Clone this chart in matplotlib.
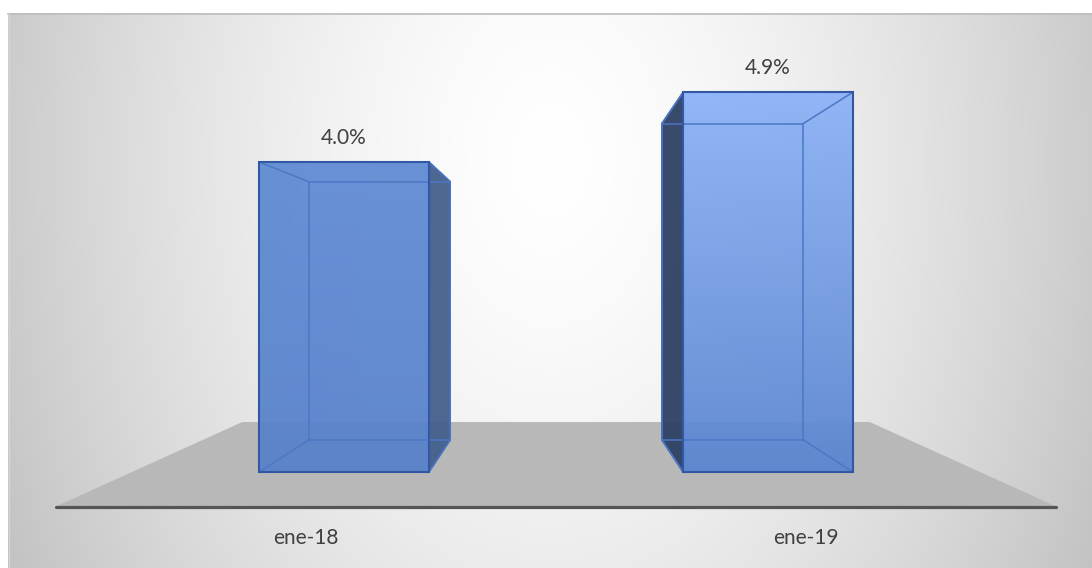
import matplotlib
matplotlib.use("Agg")
import matplotlib.pyplot as plt
import numpy as np
from matplotlib.patches import Polygon

categories = ["ene-18", "ene-19"]
values = [4.0, 4.9]
value_labels = ["4.0%", "4.9%"]

# per-bar face colours (front top, front bottom, side face)
front_top = [(94, 138, 212), (138, 177, 246)]
front_bottom = [(86, 128, 203), (90, 133, 208)]
side_colors = ["#43608c", "#2e4165"]

plt.rcParams['font.family'] = ['Lato', 'DejaVu Sans']

W, H = 1092, 568
fig = plt.figure(figsize=(W / 100, H / 100), dpi=100)
fig.patch.set_facecolor("white")

# background: radial grey gradient in pixel space
bg = fig.add_axes([0, 0, 1, 1])
bg.set_xlim(0, W)
bg.set_ylim(H, 0)
bg.axis("off")
yy, xx = np.mgrid[13:H, 8:W]
r = np.sqrt(((xx - 550) / 620.0) ** 2 + ((yy - 160) / 900.0) ** 2)
shade = np.clip(255 - 62 * r ** 1.5, 190, 255) / 255.0
bg.imshow(np.dstack([shade] * 3), extent=[8, W, H, 13], aspect="auto",
          interpolation="bilinear", zorder=0)
bg.plot([8, W], [13.5, 13.5], color="#bdbdbd", lw=1.2, zorder=1)
bg.plot([8.5, 8.5], [13, H], color="#d4d4d4", lw=1.0, zorder=1)

# main axes in data coordinates
ax = fig.add_axes([0, 0, 1, 1])
ax.patch.set_alpha(0)
ax.set_xlim(-344 / 424, (W - 344) / 424)
ax.set_ylim(-(H - 472) / 77.5, 472 / 77.5)
ax.axis("off")

vx, vy = 0.5, 2.48          # vanishing point
back_s = 0.833              # depth factor of bar backs
floor_front, floor_back = 1.18, 0.74
half = 0.2


def proj(x, y, s):
    return (vx + s * (x - vx), vy + s * (y - vy))


# floor
floor = [proj(-0.5, 0, floor_front), proj(1.5, 0, floor_front),
         proj(1.5, 0, floor_back), proj(-0.5, 0, floor_back)]
ax.add_patch(Polygon(floor, closed=True, facecolor="#b8b8b8",
                     edgecolor="none", zorder=1))
fx = [floor[0][0], floor[1][0]]
ax.plot(fx, [floor[0][1]] * 2, color="#555555", lw=2.3,
        solid_capstyle="round", zorder=2)

edge = "#3358a3"
inner = "#4b77c4"
for i, v in enumerate(values):
    x0, x1 = i - half, i + half
    fl, fr = (x0, 0), (x1, 0)
    tl, tr = (x0, v), (x1, v)
    bl_b, br_b = proj(x0, 0, back_s), proj(x1, 0, back_s)
    tl_b, tr_b = proj(x0, v, back_s), proj(x1, v, back_s)

    # visible side face
    if i < vx:
        side = [fr, tr, tr_b, br_b]
    else:
        side = [fl, tl, tl_b, bl_b]
    ax.add_patch(Polygon(side, closed=True, facecolor=side_colors[i],
                         edgecolor=edge, lw=1.3, alpha=0.95, zorder=3))

    # front face with vertical gradient
    c0 = np.array(front_bottom[i]) / 255.0
    c1 = np.array(front_top[i]) / 255.0
    t = np.linspace(0, 1, 64)[:, None]
    grad = (c0 + (c1 - c0) * t)[:, None, :]
    im = ax.imshow(grad, extent=[x0, x1, 0, v], origin="lower",
                   aspect="auto", interpolation="bilinear", alpha=0.93,
                   zorder=4)
    front = Polygon([fl, fr, tr, tl], closed=True, facecolor="none",
                    edgecolor=edge, lw=1.5, zorder=6)
    ax.add_patch(front)
    im.set_clip_path(front)

    # back edges seen through the front face
    ax.plot([bl_b[0], br_b[0], tr_b[0], tl_b[0], bl_b[0]],
            [bl_b[1], br_b[1], tr_b[1], tl_b[1], bl_b[1]],
            color=inner, lw=1.1, zorder=5)
    for a, b in [(fl, bl_b), (fr, br_b), (tl, tl_b), (tr, tr_b)]:
        ax.plot([a[0], b[0]], [a[1], b[1]], color=inner, lw=1.1, zorder=5)

    ax.text(i, v + 0.31, value_labels[i], ha="center", va="center",
            fontsize=15, color="#404040", zorder=7)
    lx = proj(i, 0, floor_front)[0]
    ax.text(lx, -0.85, categories[i], ha="center", va="center",
            fontsize=15, color="#404040", zorder=7)

fig.savefig("out.png", dpi=100)
